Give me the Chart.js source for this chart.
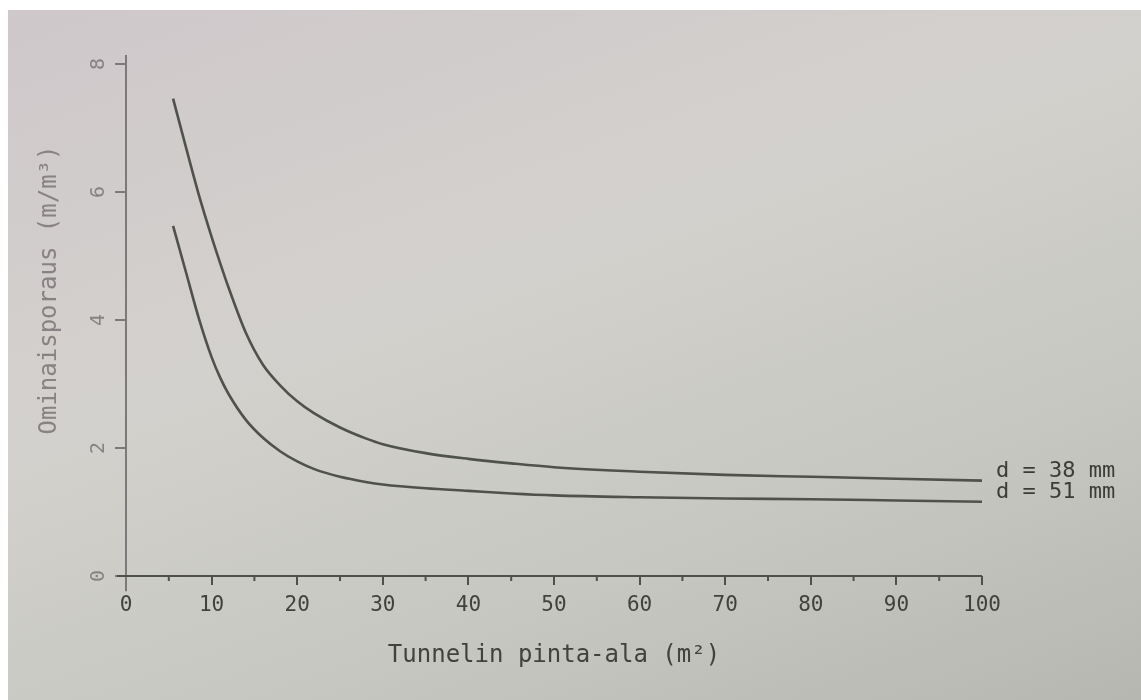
<!DOCTYPE html>
<html>
<head>
<meta charset="utf-8">
<script src="https://cdn.jsdelivr.net/npm/chart.js@4.4.1/dist/chart.umd.min.js"></script>
<style>
  html, body { margin: 0; padding: 0; background: #fff; }
  #wrap {
    position: absolute; left: 8px; top: 10px; width: 1133px; height: 690px;
    background: linear-gradient(160deg, #cfc8cb 0%, #d3d1cd 40%, #c6c7c0 72%, #b6b7b0 100%);
  }
</style>
</head>
<body>
<div id="wrap"><canvas id="curveChart"></canvas></div>
<script>
// tunnel cross-section area (m2)
const areas = [5.5, 7, 8.5, 10, 11, 12, 14, 16, 18, 20, 22, 25, 28, 30, 35, 40, 45, 50, 60, 70, 80, 90, 100];
// specific drilling (m/m3)
const drill38 = [7.46, 6.70, 5.96, 5.30, 4.89, 4.50, 3.80, 3.30, 2.98, 2.73, 2.54, 2.32, 2.15, 2.06, 1.92, 1.83, 1.76, 1.70, 1.63, 1.58, 1.55, 1.52, 1.49];
const drill51 = [5.47, 4.75, 4.03, 3.42, 3.10, 2.84, 2.44, 2.16, 1.95, 1.79, 1.67, 1.55, 1.47, 1.43, 1.37, 1.33, 1.29, 1.26, 1.23, 1.21, 1.20, 1.18, 1.16];
const seriesLabels = ['d = 38 mm', 'd = 51 mm'];
const xMinor = [5, 15, 25, 35, 45, 55, 65, 75, 85, 95];

const mono = "'DejaVu Sans Mono', 'Liberation Mono', monospace";
const lineColor = '#4f514b';

const extras = {
  id: 'extras',
  afterDraw(chart) {
    const { ctx, scales: { x, y } } = chart;
    const x0 = x.getPixelForValue(0);
    const y0 = y.getPixelForValue(0);
    ctx.save();
    // axis lines, a little longer than the scale range
    ctx.lineWidth = 2;
    ctx.strokeStyle = '#7d797a';
    ctx.beginPath();
    ctx.moveTo(x0, y.getPixelForValue(-0.24));
    ctx.lineTo(x0, y.getPixelForValue(8.14));
    ctx.stroke();
    ctx.strokeStyle = '#4f504b';
    ctx.beginPath();
    ctx.moveTo(x.getPixelForValue(-1.05), y0);
    ctx.lineTo(x.getPixelForValue(100), y0);
    ctx.stroke();
    // short ticks
    ctx.beginPath();
    xMinor.forEach(v => {
      const px = x.getPixelForValue(v);
      ctx.moveTo(px, y0);
      ctx.lineTo(px, y0 + 5);
    });
    ctx.stroke();
    // y title
    ctx.fillStyle = '#888284';
    ctx.font = '24px ' + mono;
    ctx.textAlign = 'center';
    ctx.textBaseline = 'middle';
    ctx.translate(42, 280);
    ctx.rotate(-Math.PI / 2);
    ctx.fillText('Ominaisporaus (m/m³)', 0, 0);
    ctx.restore();
    // series names at line ends
    ctx.save();
    ctx.fillStyle = '#3b3c38';
    ctx.font = '22px ' + mono;
    ctx.textAlign = 'left';
    ctx.textBaseline = 'middle';
    chart.data.datasets.forEach((ds, i) => {
      const last = chart.getDatasetMeta(i).data.at(-1);
      ctx.fillText(ds.label, last.x + 14, last.y - 9);
    });
    ctx.restore();
  }
};

new Chart(document.getElementById('curveChart'), {
  type: 'line',
  data: {
    datasets: [
      {
        label: seriesLabels[0],
        data: areas.map((a, i) => ({ x: a, y: drill38[i] })),
        borderColor: lineColor,
        borderWidth: 2.6,
        pointRadius: 0,
        cubicInterpolationMode: 'monotone',
        fill: false
      },
      {
        label: seriesLabels[1],
        data: areas.map((a, i) => ({ x: a, y: drill51[i] })),
        borderColor: lineColor,
        borderWidth: 2.6,
        pointRadius: 0,
        cubicInterpolationMode: 'monotone',
        fill: false
      }
    ]
  },
  options: {
    responsive: true,
    maintainAspectRatio: false,
    animation: false,
    layout: {
      padding: { left: 0, top: 54, right: 159, bottom: 24 }
    },
    plugins: {
      legend: { display: false },
      tooltip: { enabled: false }
    },
    scales: {
      x: {
        type: 'linear',
        min: 0,
        max: 100,
        afterFit: s => { s.height = 100; },
        border: { display: false },
        grid: {
          drawOnChartArea: false,
          tickLength: 9,
          lineWidth: 2,
          tickColor: '#4f504b'
        },
        ticks: {
          stepSize: 10,
          autoSkip: false,
          maxRotation: 0,
          padding: 8,
          color: '#41423e',
          font: { family: mono, size: 21 }
        },
        title: {
          display: true,
          text: 'Tunnelin pinta-ala (m²)',
          color: '#41423e',
          font: { family: mono, size: 24 },
          padding: { top: 4, bottom: 6 }
        }
      },
      y: {
        min: 0,
        max: 8,
        afterFit: s => { s.width = 118; },
        border: { display: false },
        grid: {
          drawOnChartArea: false,
          tickLength: 11,
          lineWidth: 2,
          tickColor: '#7d797a'
        },
        ticks: {
          stepSize: 2,
          minRotation: 90,
          maxRotation: 90,
          crossAlign: 'center',
          padding: 10,
          color: '#888284',
          font: { family: mono, size: 20 }
        }
      }
    }
  },
  plugins: [extras]
});
</script>
</body>
</html>
